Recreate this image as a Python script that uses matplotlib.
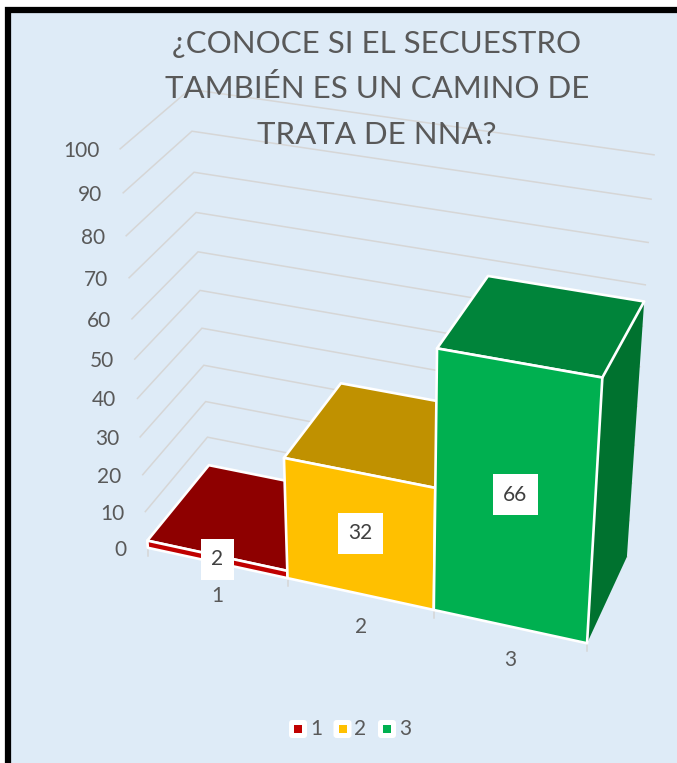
import numpy as np
import matplotlib
matplotlib.use('Agg')
import matplotlib.pyplot as plt
from matplotlib.patches import Polygon, Rectangle, FancyBboxPatch

categories = ['1', '2', '3']
values = [2, 32, 66]
front_colors = ['#C00000', '#FFC000', '#00B050']
top_colors = ['#8E0000', '#C09100', '#00843A']
side_colors = ['#7A0000', '#A57C00', '#00722F']
yticks = list(range(0, 101, 10))
title_lines = [u'¿CONOCE SI EL SECUESTRO', u'TAMBIÉN ES UN CAMINO DE',
               u'TRATA DE NNA?']

bg = '#DEEBF7'
txt = '#595959'
grid = '#D6D6D6'
plt.rcParams['font.family'] = ['Lato', 'DejaVu Sans']

# perspective camera fitted to the corners of the plot box
# world: x = category slot (0..3), y = depth (0 front, 1 back), z = value / 100
box_3d = np.array([[0, 0, 0], [3, 0, 0], [0, 1, 0], [3, 1, 0],
                   [0, 0, 1], [0, 1, 1], [3, 1, 1]], float)
box_px = np.array([[148, 547], [587, 644], [209, 473], [627, 556],
                   [120, 149], [190, 89], [654, 155]], float)
A, b = [], []
for (X, Y, Z), (u, v) in zip(box_3d, box_px):
    A.append([X, Y, Z, 1, 0, 0, 0, 0, -u*X, -u*Y, -u*Z]); b.append(u)
    A.append([0, 0, 0, 0, X, Y, Z, 1, -v*X, -v*Y, -v*Z]); b.append(v)
p = np.linalg.lstsq(np.array(A), np.array(b), rcond=None)[0]
P = np.append(p, 1.0).reshape(3, 4)


def proj(x, y, z):
    h = P @ np.array([x, y, z/100.0, 1.0])
    return h[0]/h[2], h[1]/h[2]


def face(pts, fc, ec='white', lw=1.9, z=3):
    poly = Polygon([proj(*q) for q in pts], closed=True, facecolor=fc,
                   edgecolor=ec, lw=lw, joinstyle='round', zorder=z)
    ax.add_patch(poly)


W, H = 677, 763
dpi = 100.0
fig = plt.figure(figsize=(W/dpi, H/dpi), dpi=dpi, facecolor='white')
ax = fig.add_axes([0, 0, 1, 1], frameon=False)
ax.set_xlim(0, W)
ax.set_ylim(H, 0)
ax.set_xticks([]), ax.set_yticks([])

# chart area + black frame
ax.add_patch(Rectangle((8, 10), 720, 800, facecolor=bg, edgecolor='black',
                       lw=4.5, zorder=0))

# walls gridlines
for t in yticks:
    a = proj(0, 0, t)
    c = proj(0, 1, t)
    d = proj(3, 1, t)
    ax.plot([a[0], c[0], d[0]], [a[1], c[1], d[1]], color=grid, lw=1.1,
            solid_joinstyle='miter', zorder=1)
    ax.text(a[0] - 21, a[1] + 2, str(t), ha='right', va='center',
            fontsize=15, color=txt)

# category ticks and labels
for i in range(len(categories) + 1):
    x, y = proj(i, 0, 0)
    ax.plot([x, x], [y + 1, y + 8], color=grid, lw=1.1, zorder=1)
for i, c in enumerate(categories):
    x0, y0 = proj(i, 0, 0)
    x1, y1 = proj(i + 1, 0, 0)
    ax.text((x0 + x1)/2, (y0 + y1)/2 + 33, c, ha='center', va='center',
            fontsize=15, color=txt)

# bars
for i, v in enumerate(values):
    x0, x1 = i, i + 1
    face([(x1, 0, 0), (x1, 1, 0), (x1, 1, v), (x1, 0, v)], side_colors[i],
         ec='none', lw=0)
    face([(x0, 0, v), (x1, 0, v), (x1, 1, v), (x0, 1, v)], top_colors[i])
    face([(x0, 0, 0), (x1, 0, 0), (x1, 0, v), (x0, 0, v)], front_colors[i])

for i, v in enumerate(values):
    pts = [proj(i, 0, 0), proj(i + 1, 0, 0), proj(i + 1, 0, v), proj(i, 0, v)]
    cx = np.mean([q[0] for q in pts])
    cy = np.mean([q[1] for q in pts])
    ax.text(cx, cy, str(v), ha='center', va='center', fontsize=15,
            color='#404040', zorder=6,
            bbox=dict(boxstyle='square,pad=0.5', fc='white', ec='none'))

# title
for k, line in enumerate(title_lines):
    ax.text(377, 53 + k*45.5, line, ha='center', va='baseline', fontsize=22.5,
            color=txt, zorder=5)

# legend
for i, c in enumerate(categories):
    lx = 298 + i*44.5
    ax.add_patch(FancyBboxPatch((lx - 7, 722), 14, 14,
                                boxstyle='round,pad=2,rounding_size=3',
                                fc='white', ec='none', zorder=4))
    ax.add_patch(Rectangle((lx - 4, 725), 8, 8, fc=front_colors[i],
                           ec='none', zorder=5))
    ax.text(lx + 18, 729, c, ha='center', va='center', fontsize=15,
            color=txt)

fig.savefig('out.png', dpi=dpi, facecolor='white')
